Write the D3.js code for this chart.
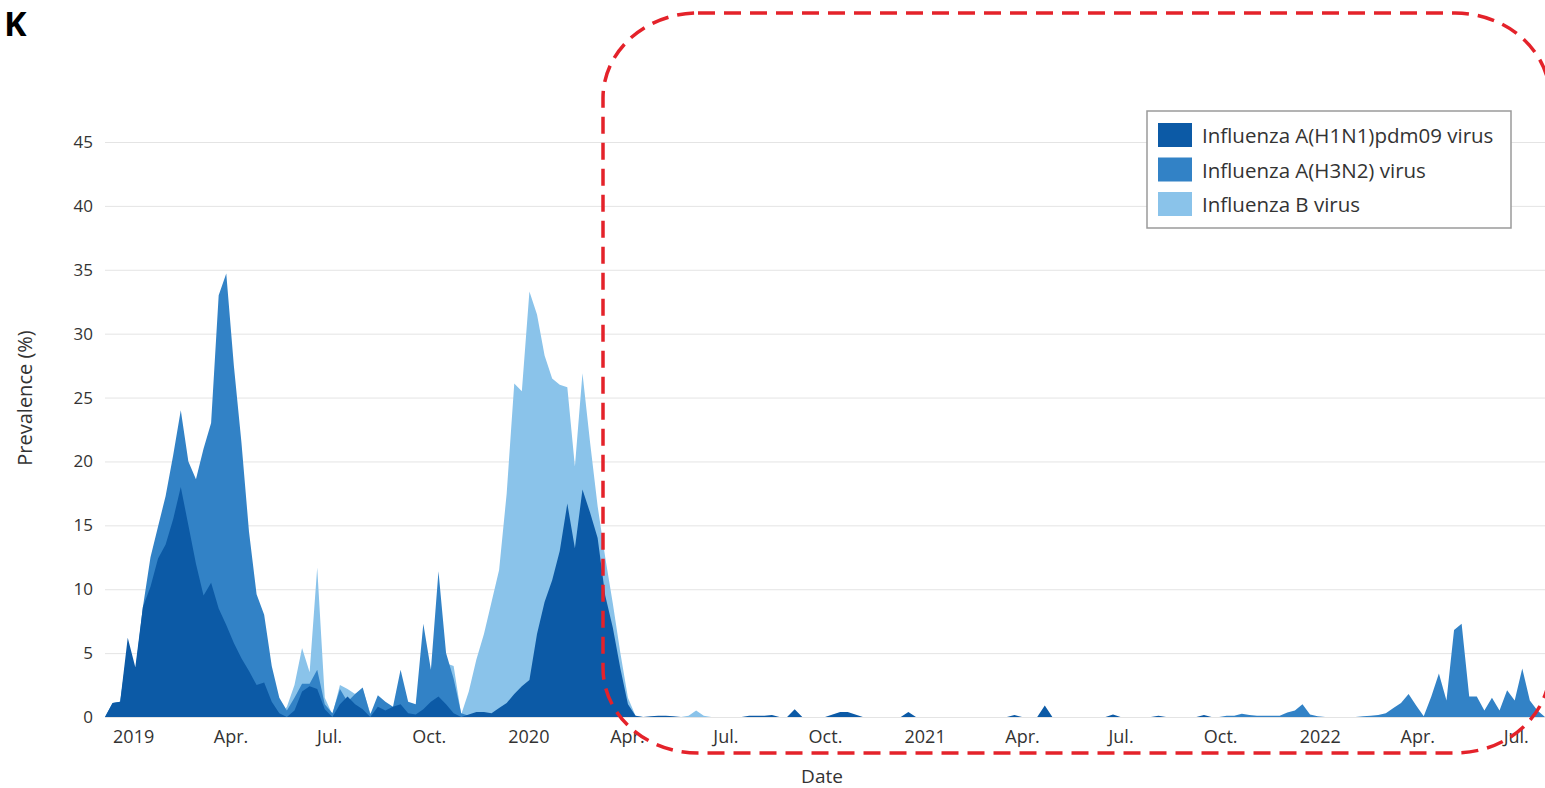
<!DOCTYPE html>
<html>
<head>
<meta charset="utf-8">
<script src="https://cdn.jsdelivr.net/npm/d3@7"></script>
<style>
  body { margin: 0; background: #fff; }
  .chart text { font-family: "Open Sans", sans-serif; fill: #333; }
</style>
</head>
<body>
<div class="chart-container"></div>
<script>
// weekly prevalence (%), first week starts 2018-12-06
var firstWeek = new Date(2018, 11, 6);

var h1n1Values = [
  0, 1.1, 1.2, 6.2, 3.9, 8.6, 10.2, 12.4, 13.5, 15.5,
  18, 15, 12, 9.5, 10.5, 8.5, 7.2, 5.8, 4.6, 3.6,
  2.5, 2.7, 1.2, 0.3, 0, 0.5, 2.0, 2.4, 2.2, 0.6,
  0, 1.0, 1.6, 1.0, 0.6, 0, 0.8, 0.5, 0.8, 1.0,
  0.3, 0.2, 0.6, 1.2, 1.6, 1.0, 0.3, 0, 0.2, 0.4,
  0.4, 0.3, 0.7, 1.1, 1.8, 2.4, 2.9, 6.5, 9.0, 10.7,
  13.0, 16.7, 13.2, 17.8, 16.0, 14.0, 9.5, 7.0, 3.8, 1.0,
  0.1, 0, 0.05, 0.1, 0.1, 0.05, 0, 0, 0, 0,
  0, 0, 0, 0, 0, 0.1, 0.1, 0.1, 0.15, 0,
  0, 0.6, 0, 0, 0, 0, 0.2, 0.4, 0.4, 0.2,
  0, 0, 0, 0, 0, 0, 0.4, 0, 0, 0,
  0, 0, 0, 0, 0, 0, 0, 0, 0, 0,
  0.15, 0, 0, 0, 0.9, 0, 0, 0, 0, 0,
  0, 0, 0, 0.2, 0, 0, 0, 0, 0, 0.1,
  0, 0, 0, 0, 0, 0.15, 0, 0, 0, 0,
  0, 0, 0, 0, 0, 0, 0, 0, 0, 0,
  0, 0, 0, 0, 0, 0, 0, 0, 0, 0,
  0, 0, 0, 0, 0, 0, 0, 0, 0, 0,
  0, 0, 0, 0, 0, 0, 0, 0, 0, 0,
  0
];

var h3n2Values = [
  0, 1.1, 1.2, 5.5, 3.5, 8.6, 12.5, 14.9, 17.3, 20.5,
  24, 20, 18.6, 21, 23, 33, 34.7, 27.5, 21.5, 14.5,
  9.6, 8.0, 4.0, 1.5, 0.5, 1.5, 2.6, 2.6, 3.7, 1.0,
  0.3, 2.2, 1.2, 1.8, 2.3, 0.2, 1.7, 1.2, 0.8, 3.7,
  1.2, 1.0, 7.3, 3.7, 11.4, 5.0, 3.0, 0.3, 0.1, 0.1,
  0.1, 0.2, 0.2, 0.3, 0.3, 0.4, 0.4, 0.5, 0.5, 0.5,
  0.5, 0.5, 0.5, 0.5, 0.4, 0.3, 0.3, 0.2, 0.1, 0,
  0, 0, 0, 0, 0, 0, 0, 0, 0, 0,
  0, 0, 0, 0, 0, 0, 0, 0, 0, 0,
  0, 0, 0, 0, 0, 0, 0, 0, 0, 0,
  0, 0, 0, 0, 0, 0, 0, 0, 0, 0,
  0, 0, 0, 0, 0, 0, 0, 0, 0, 0,
  0, 0, 0, 0, 0, 0, 0, 0, 0, 0,
  0, 0, 0, 0, 0, 0, 0, 0, 0, 0,
  0, 0, 0, 0, 0, 0, 0, 0, 0.1, 0.1,
  0.25, 0.15, 0.1, 0.1, 0.1, 0.1, 0.35, 0.5, 1.0, 0.2,
  0.05, 0, 0, 0, 0, 0, 0.05, 0.1, 0.15, 0.3,
  0.7, 1.1, 1.8, 0.9, 0.05, 1.6, 3.4, 1.3, 6.8, 7.3,
  1.6, 1.6, 0.5, 1.5, 0.5, 2.1, 1.3, 3.8, 1.3, 0.5,
  0
];

var bValues = [
  0, 0, 0, 0, 0, 0, 0, 0, 0, 0,
  0, 0, 0, 0, 0, 0, 0, 0, 0, 0,
  0, 0, 0, 0, 0.8, 2.5, 5.4, 3.5, 11.7, 1.5,
  0.2, 2.5, 2.2, 1.8, 2.2, 0.3, 0.8, 0.5, 0.3, 2.5,
  1.0, 0.8, 5.5, 3.0, 3.5, 4.2, 4.0, 0.2, 2.0, 4.5,
  6.5, 9.0, 11.5, 17.5, 26.1, 25.5, 33.3, 31.5, 28.3, 26.5,
  26.0, 25.8, 19.6, 26.9, 21.5, 16.5, 12.5, 8.9, 5.0, 1.5,
  0.1, 0, 0, 0, 0, 0, 0, 0.1, 0.5, 0.1,
  0, 0, 0, 0, 0, 0, 0, 0, 0, 0,
  0, 0, 0, 0, 0, 0, 0, 0, 0, 0,
  0, 0, 0, 0, 0, 0, 0, 0, 0, 0,
  0, 0, 0, 0, 0, 0, 0, 0, 0, 0,
  0, 0, 0, 0, 0, 0, 0, 0, 0, 0,
  0, 0, 0, 0, 0, 0, 0, 0, 0, 0,
  0, 0, 0, 0, 0, 0, 0, 0, 0, 0,
  0, 0, 0, 0, 0, 0, 0, 0, 0, 0,
  0, 0, 0, 0, 0, 0, 0, 0, 0, 0,
  0, 0, 0, 0, 0, 0, 0, 0, 0, 0,
  0, 0, 0, 0, 0, 0, 0, 0, 0, 0,
  0
];

var seriesNames = ["Influenza A(H1N1)pdm09 virus", "Influenza A(H3N2) virus", "Influenza B virus"];
var seriesColors = ["#0c5aa6", "#3282c6", "#8ac3ea"];

var yTicks = [0, 5, 10, 15, 20, 25, 30, 35, 40, 45];
var xTickDates = [
  "2019-01-01", "2019-04-01", "2019-07-01", "2019-10-01",
  "2020-01-01", "2020-04-01", "2020-07-01", "2020-10-01",
  "2021-01-01", "2021-04-01", "2021-07-01", "2021-10-01",
  "2022-01-01", "2022-04-01", "2022-07-01"
];
var xTickLabels = [
  "2019", "Apr.", "Jul.", "Oct.",
  "2020", "Apr.", "Jul.", "Oct.",
  "2021", "Apr.", "Jul.", "Oct.",
  "2022", "Apr.", "Jul."
];

var width = 1545;
var height = 788;
var margin = { top: 142, right: 0, bottom: 71, left: 105 };
var plotW = width - margin.left - margin.right;
var plotH = height - margin.top - margin.bottom;

var svg = d3
  .select(".chart-container")
  .append("svg")
  .attr("class", "chart")
  .attr("width", width)
  .attr("height", height);

var weeks = h1n1Values.map((v, i) => d3.timeWeek.offset(firstWeek, i));

var x = d3
  .scaleTime()
  .domain([weeks[0], weeks[weeks.length - 1]])
  .range([0, plotW]);

var y = d3.scaleLinear().domain([0, 45]).range([plotH, 0]);

var g = svg
  .append("g")
  .attr("transform", `translate(${margin.left},${margin.top})`);

// gridlines + y labels
var yAxis = d3
  .axisLeft(y)
  .tickValues(yTicks)
  .tickSize(-plotW)
  .tickPadding(12);

var yAxisDraw = g.append("g").attr("class", "y axis").call(yAxis);
yAxisDraw.select(".domain").remove();
yAxisDraw.selectAll("line").attr("stroke", "#e4e4e4");
yAxisDraw.selectAll("text").attr("font-size", "17px");

// areas, B at the back and H1N1 in front
var series = [h1n1Values, h3n2Values, bValues];

var area = d3
  .area()
  .x((d, i) => x(weeks[i]))
  .y0(y(0))
  .y1((d) => y(d));

g.append("g")
  .attr("class", "areas")
  .selectAll("path")
  .data([2, 1, 0])
  .enter()
  .append("path")
  .attr("d", (s) => area(series[s]))
  .attr("fill", (s) => seriesColors[s]);

var xAxis = d3
  .axisBottom(x)
  .tickValues(xTickDates.map((d) => d3.timeParse("%Y-%m-%d")(d)))
  .tickFormat((d, i) => xTickLabels[i])
  .tickSize(0)
  .tickPadding(13);

var xAxisDraw = g
  .append("g")
  .attr("class", "x axis")
  .attr("transform", `translate(0,${plotH})`)
  .call(xAxis);
xAxisDraw.select(".domain").remove();
xAxisDraw.selectAll("text").attr("font-size", "18px");

// axis titles
svg
  .append("text")
  .attr("x", 822)
  .attr("y", 783)
  .attr("text-anchor", "middle")
  .attr("font-size", "19px")
  .text("Date");

svg
  .append("text")
  .attr("transform", "translate(32,398) rotate(-90)")
  .attr("text-anchor", "middle")
  .attr("font-size", "20px")
  .text("Prevalence (%)");

// legend
var legend = svg
  .append("g")
  .attr("class", "legend")
  .attr("transform", "translate(1147,111)");

legend
  .append("rect")
  .attr("width", 364)
  .attr("height", 117)
  .attr("fill", "#fff")
  .attr("stroke", "#9a9a9a")
  .attr("stroke-width", 1.5);

var items = legend
  .selectAll(".item")
  .data(seriesNames)
  .enter()
  .append("g")
  .attr("class", "item")
  .attr("transform", (d, i) => `translate(11,${12 + i * 34.5})`);

items
  .append("rect")
  .attr("width", 34)
  .attr("height", 24)
  .attr("fill", (d, i) => seriesColors[i]);

items
  .append("text")
  .attr("x", 44)
  .attr("y", 20)
  .attr("font-size", "20.5px")
  .text((d) => d);

// panel letter
svg
  .append("text")
  .attr("x", 4)
  .attr("y", 36)
  .attr("font-family", "Liberation Sans, Arial, sans-serif")
  .attr("font-weight", "bold")
  .attr("font-size", "34px")
  .style("fill", "#000")
  .text("K");

// red dashed highlight
svg
  .append("rect")
  .attr("x", 603)
  .attr("y", 13)
  .attr("width", 947)
  .attr("height", 740)
  .attr("rx", 95)
  .attr("ry", 85)
  .attr("fill", "none")
  .attr("stroke", "#e4222a")
  .attr("stroke-width", 3.5)
  .attr("stroke-dasharray", "17,9");
</script>
</body>
</html>
